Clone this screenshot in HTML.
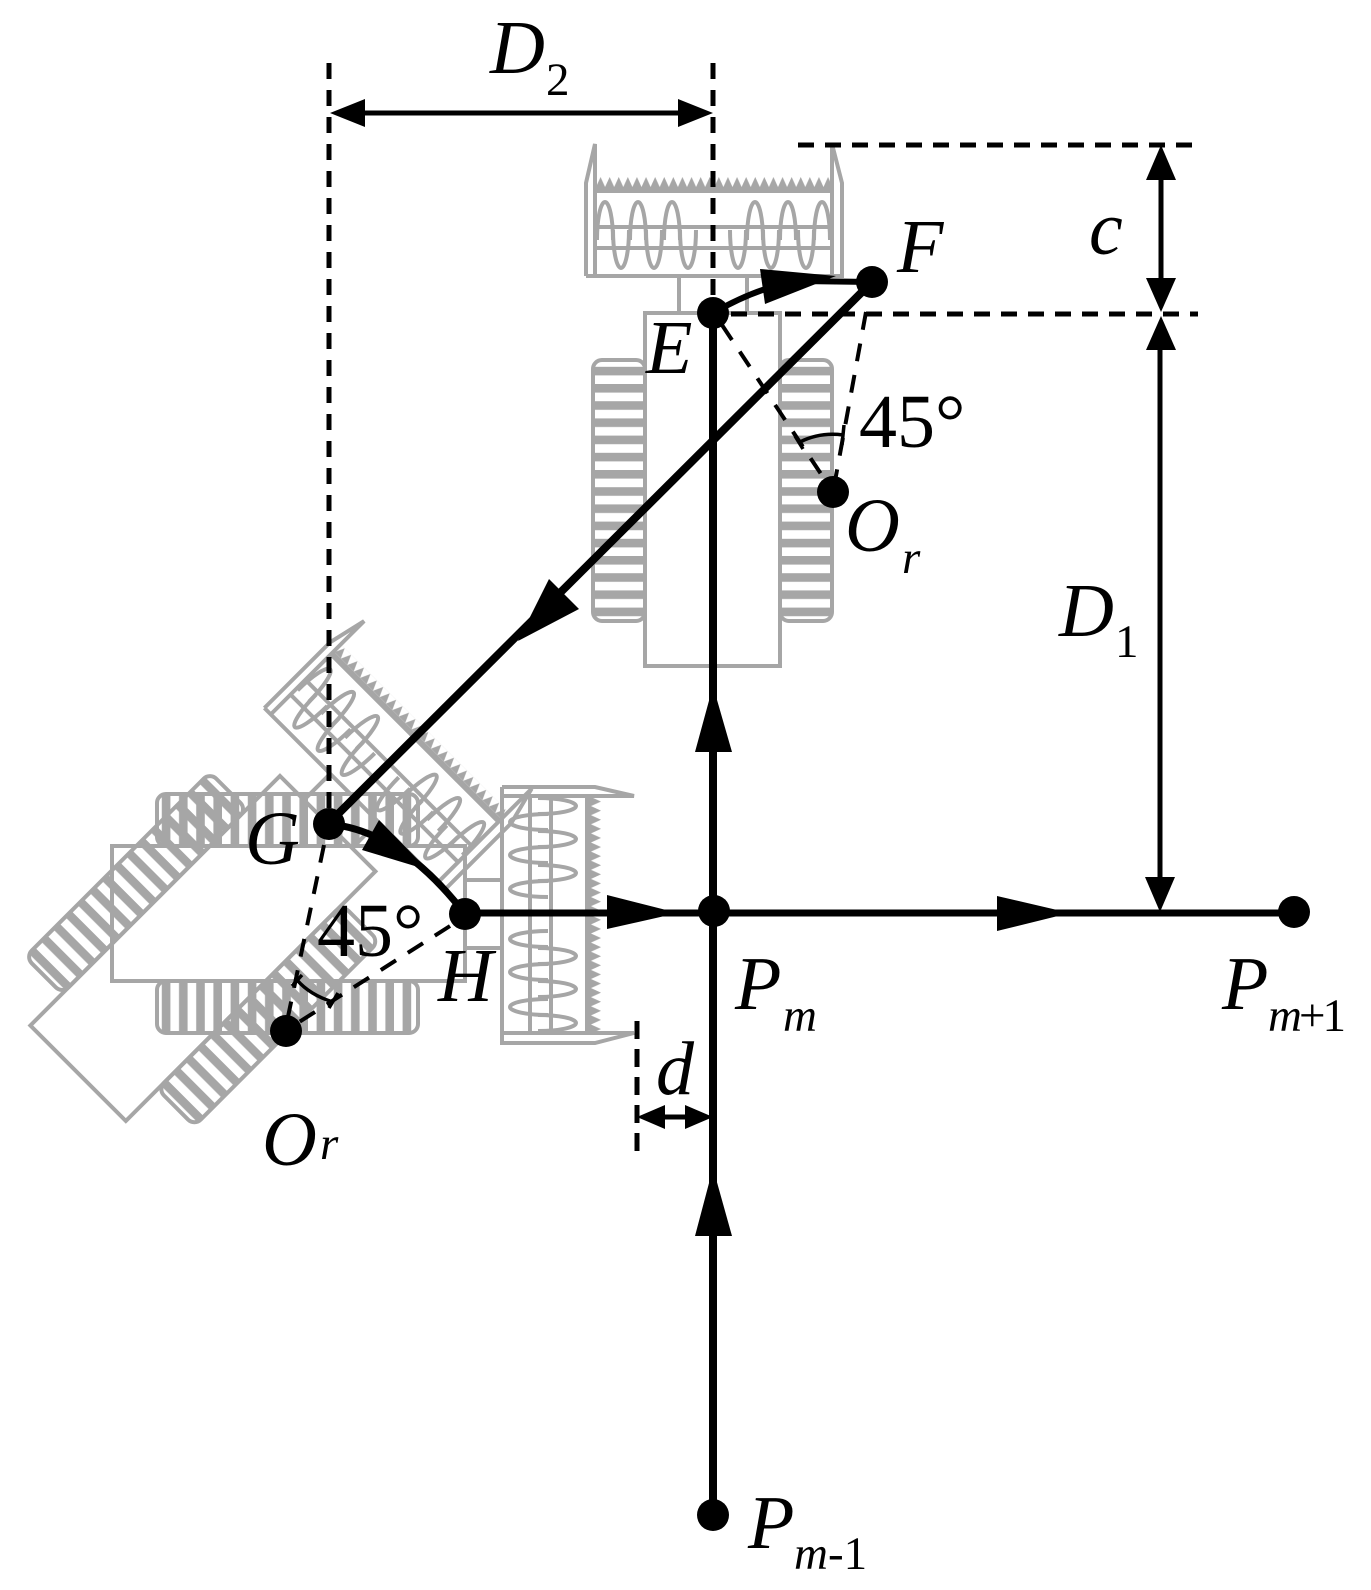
<!DOCTYPE html>
<html><head><meta charset="utf-8"><style>
html,body{margin:0;padding:0;background:#fff}
svg{display:block}
text{font-family:"Liberation Serif",serif;fill:#000}
.i{font-style:italic;font-size:76px}
.s{font-style:italic;font-size:47px}
.n{font-size:76px}
.u{font-style:normal}
</style></head><body>
<svg xmlns="http://www.w3.org/2000/svg" width="1371" height="1590" viewBox="0 0 1371 1590">
<defs>
<pattern id="st" patternUnits="userSpaceOnUse" x="0" y="384" width="40" height="17.2"><rect width="40" height="8.6" fill="#a6a6a6"/></pattern>
<pattern id="th" patternUnits="userSpaceOnUse" x="596" y="177" width="9.1" height="10"><path d="M0 10L4.55 0L9.1 10Z" fill="#a6a6a6"/></pattern>
<g id="tr" fill="none" stroke="#a6a6a6" stroke-width="4">
<rect x="645" y="313" width="135" height="353"/>
<rect x="593" y="360" width="52" height="261" rx="9" fill="url(#st)"/>
<rect x="780" y="360" width="52" height="261" rx="9" fill="url(#st)"/>
<path d="M679 276V313M747 276V313"/>
<path d="M586 276V183L595 144V276M586 276H842V183L832 144V276"/>
<rect x="596" y="177" width="236" height="10" fill="url(#th)" stroke="none"/>
<rect x="596" y="187" width="236" height="6" fill="#a6a6a6" stroke="none"/>
<path d="M596 227H832M596 248H832"/>
<path d="M597 240A8 38 0 0 1 613 240M630 240A8 38 0 0 1 646 240M664 240A8 38 0 0 1 680 240M747 240A8 38 0 0 1 763 240M780 240A8 38 0 0 1 796 240M814 240A8 38 0 0 1 830 240"/>
<path d="M613 230A8 38 0 0 0 629 230M646 230A8 38 0 0 0 662 230M680 230A8 38 0 0 0 696 230M730 230A8 38 0 0 0 746 230M763 230A8 38 0 0 0 779 230M798 230A8 38 0 0 0 814 230"/>
</g>
</defs>

<use href="#tr"/>
<use href="#tr" transform="matrix(.7071 .7071 -.7071 .7071 45.2 98.5)"/>
<use href="#tr" transform="matrix(0 1 -1 0 778 201)"/>

<!-- dashed guides -->
<g fill="none" stroke="#000" stroke-width="5" stroke-dasharray="16 11">
<path d="M329 63V815"/>
<path d="M713 63V300"/>
<path d="M798 145H1198"/>
<path d="M731 314H1198"/>
<path d="M637 1021V1157" stroke-dasharray="18 10"/>
</g>
<g fill="none" stroke="#000" stroke-width="4" stroke-dasharray="18 14">
<path d="M722 325L833 492"/>
<path d="M866 312L833 492"/>
<path d="M324 845L285 1031"/>
<path d="M450 926L285 1031"/>
</g>
<path d="M800 442Q820 432 843 435M795 436L803 449M844 425L842 445" fill="none" stroke="#000" stroke-width="3.5"/>
<path d="M297 980Q310 995 333 1002M302 975L292 986M338 993L329 1008" fill="none" stroke="#000" stroke-width="3.5"/>

<!-- dimension arrows -->
<g fill="none" stroke="#000" stroke-width="5">
<path d="M340 113H704"/>
<path d="M1161 160V300"/>
<path d="M1160 330V900"/>
<path d="M650 1117H704"/>
</g>
<g fill="#000">
<polygon points="330,113 365,99 365,127"/>
<polygon points="713,113 678,99 678,127"/>
<polygon points="1161,145 1146,180 1176,180"/>
<polygon points="1161,312 1146,278 1176,278"/>
<polygon points="1161,316 1146,350 1176,350"/>
<polygon points="1160,912 1145,877 1175,877"/>
<polygon points="637,1117 665,1105 665,1129"/>
<polygon points="713,1117 685,1105 685,1129"/>
</g>

<!-- main path -->
<g fill="none" stroke="#000">
<path d="M713 313V1515" stroke-width="8"/>
<path d="M872 282L328 824" stroke-width="8"/>
<path d="M465 913H1293" stroke-width="7"/>
<path d="M713 313Q760 286 800 281L872 282" stroke-width="6"/>
<path d="M328 824Q400 830 465 914" stroke-width="7"/>
</g>
<g fill="#000">
<polygon points="760,269 765,304 836,276"/>
<polygon points="549,579 579,609 518,641"/>
<polygon points="379,820 362,850 428,870"/>
<polygon points="607,895 607,929 678,913"/>
<polygon points="997,896 997,931 1070,913"/>
<polygon points="713,686 695,752 732,752"/>
<polygon points="713,1168 695,1236 732,1236"/>
<circle cx="713" cy="313" r="16"/>
<circle cx="872" cy="282" r="16"/>
<circle cx="833" cy="492" r="16"/>
<circle cx="329" cy="824" r="16"/>
<circle cx="465" cy="914" r="16"/>
<circle cx="286" cy="1031" r="16"/>
<circle cx="714" cy="911" r="16"/>
<circle cx="1294" cy="912" r="16"/>
<circle cx="713" cy="1515" r="16"/>
</g>

<!-- labels -->
<text class="i" x="490" y="73">D</text><text class="s u" x="546" y="95">2</text>
<text class="i" x="897" y="272">F</text>
<text class="i" x="646" y="373">E</text>
<text class="i" x="1089" y="254">c</text>
<text class="n" x="859" y="447">45°</text>
<text class="i" x="845" y="551">O</text><text class="s" x="902" y="573">r</text>
<text class="i" x="1059" y="636">D</text><text class="s u" x="1115" y="657">1</text>
<text class="i" x="245" y="864">G</text>
<text class="n" x="317" y="956">45°</text>
<text class="i" x="438" y="1001">H</text>
<text class="i" x="735" y="1009">P</text><text class="s" x="783" y="1031">m</text>
<text class="i" x="1222" y="1009">P</text><text class="s" x="1268" y="1031" textLength="78">m<tspan class="u">+1</tspan></text>
<text class="i" x="656" y="1094">d</text>
<text class="i" x="262" y="1165">O</text><text class="s" x="320" y="1159">r</text>
<text class="i" x="748" y="1548">P</text><text class="s" x="794" y="1569">m<tspan class="u">-1</tspan></text>
</svg>
</body></html>
